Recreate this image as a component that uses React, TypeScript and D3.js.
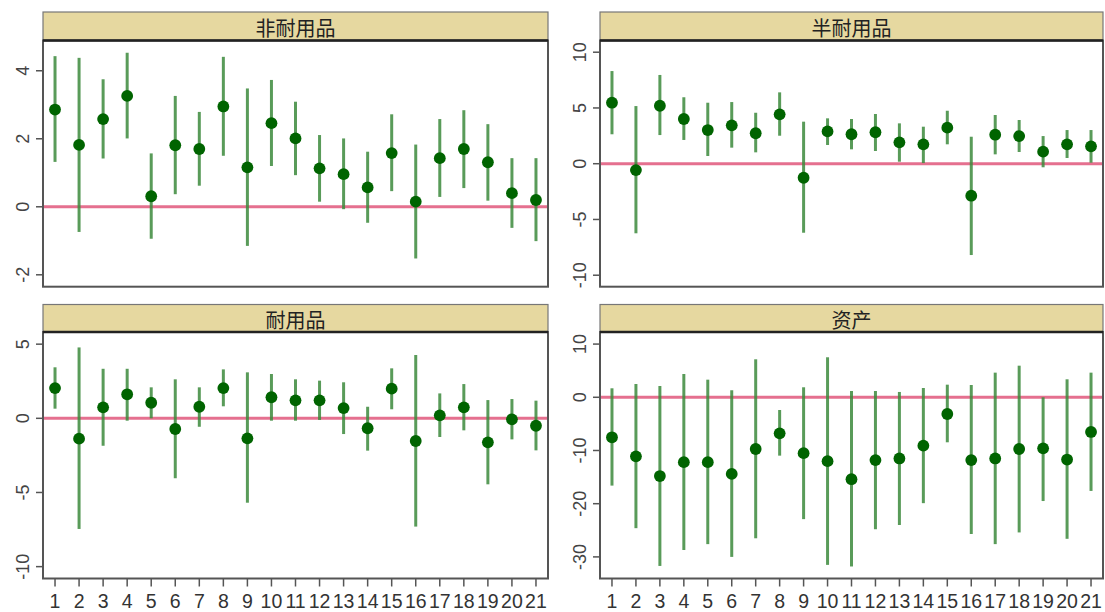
import React from "react";
import * as d3 from "d3";

// Period index on the x axis
const periods: number[] = d3.range(1, 22);

// 非耐用品
const nondurEst = [2.86, 1.82, 2.58, 3.26, 0.31, 1.81, 1.7, 2.95, 1.16, 2.46, 2.01, 1.13, 0.96, 0.57, 1.58, 0.15, 1.43, 1.7, 1.31, 0.4, 0.2];
const nondurHi = [4.43, 4.38, 3.75, 4.53, 1.57, 3.26, 2.79, 4.41, 3.48, 3.73, 3.09, 2.11, 2.01, 1.62, 2.72, 1.83, 2.58, 2.84, 2.43, 1.43, 1.43];
const nondurLo = [1.32, -0.74, 1.42, 2.01, -0.94, 0.37, 0.62, 1.5, -1.15, 1.2, 0.93, 0.15, -0.07, -0.47, 0.46, -1.52, 0.29, 0.55, 0.18, -0.62, -1.01];

// 半耐用品
const semiEst = [5.47, -0.57, 5.2, 4.01, 3.02, 3.44, 2.73, 4.43, -1.26, 2.9, 2.64, 2.82, 1.92, 1.74, 3.23, -2.87, 2.6, 2.48, 1.08, 1.74, 1.56];
const semiHi = [8.31, 5.17, 7.96, 5.96, 5.47, 5.53, 4.57, 6.4, 3.77, 4.07, 4.01, 4.46, 3.62, 3.32, 4.75, 2.42, 4.37, 3.92, 2.48, 3.02, 3.02];
const semiLo = [2.64, -6.24, 2.57, 2.13, 0.69, 1.44, 1.02, 2.51, -6.19, 1.68, 1.29, 1.14, 0.18, 0.06, 1.74, -8.19, 0.84, 1.05, -0.32, 0.51, 0.09];

// 耐用品
const durEst = [2.04, -1.37, 0.74, 1.62, 1.05, -0.72, 0.78, 2.04, -1.35, 1.42, 1.21, 1.21, 0.69, -0.67, 2.0, -1.53, 0.2, 0.74, -1.62, -0.07, -0.5];
const durHi = [3.44, 4.78, 3.34, 3.34, 2.09, 2.63, 2.09, 3.3, 3.1, 2.99, 2.63, 2.54, 2.43, 0.78, 3.37, 4.27, 1.68, 2.31, 1.23, 1.3, 1.19];
const durLo = [0.65, -7.46, -1.85, -0.16, 0.0, -4.04, -0.57, 0.81, -5.69, -0.16, -0.16, -0.11, -1.06, -2.18, 0.61, -7.3, -1.26, -0.81, -4.45, -1.42, -2.16];

// 资产
const assetEst = [-7.52, -11.1, -14.8, -12.2, -12.2, -14.4, -9.72, -6.77, -10.5, -12.0, -15.4, -11.8, -11.5, -9.1, -3.14, -11.8, -11.5, -9.72, -9.6, -11.7, -6.52];
const assetHi = [1.69, 2.5, 2.12, 4.38, 3.31, 1.32, 7.14, -2.39, 1.88, 7.52, 1.18, 1.18, 1.0, 1.75, 2.37, 2.31, 4.63, 5.94, 0.0, 3.38, 4.63];
const assetLo = [-16.6, -24.6, -31.7, -28.7, -27.6, -30.0, -26.5, -10.97, -22.9, -31.5, -31.8, -24.8, -24.0, -19.9, -8.46, -25.7, -27.6, -25.4, -19.5, -26.6, -17.6];

const panelTitles = ["非耐用品", "半耐用品", "耐用品", "资产"];
const nondurTicks = [-2, 0, 2, 4];
const semiTicks = [-10, -5, 0, 5, 10];
const durTicks = [-10, -5, 0, 5];
const assetTicks = [-30, -20, -10, 0, 10];

type PanelSpec = {
  title: string;
  est: number[];
  hi: number[];
  lo: number[];
  ticks: number[];
  yDomain: [number, number];
  x0: number;
  x1: number;
  stripTop: number;
  plotTop: number;
  plotBottom: number;
  showX: boolean;
};

const panels: PanelSpec[] = [
  { title: panelTitles[0], est: nondurEst, hi: nondurHi, lo: nondurLo, ticks: nondurTicks, yDomain: [-2.35, 4.89], x0: 43, x1: 548, stripTop: 12, plotTop: 40.5, plotBottom: 286.7, showX: false },
  { title: panelTitles[1], est: semiEst, hi: semiHi, lo: semiLo, ticks: semiTicks, yDomain: [-11.03, 11.05], x0: 600, x1: 1103, stripTop: 12, plotTop: 40.5, plotBottom: 286.7, showX: false },
  { title: panelTitles[2], est: durEst, hi: durHi, lo: durLo, ticks: durTicks, yDomain: [-10.8, 5.82], x0: 43, x1: 548, stripTop: 304.5, plotTop: 332, plotBottom: 578.5, showX: true },
  { title: panelTitles[3], est: assetEst, hi: assetHi, lo: assetLo, ticks: assetTicks, yDomain: [-34.06, 12.27], x0: 600, x1: 1103, stripTop: 304.5, plotTop: 332, plotBottom: 578.5, showX: true },
];

const GREEN_DOT = "#006400";
const GREEN_BAR = "#3c8a3c";
const ZERO_LINE = "#e5708f";
const STRIP_FILL = "#e6d8a0";

function Panel({ p }: { p: PanelSpec }) {
  const x = d3.scaleLinear().domain([0.5, 21.5]).range([p.x0, p.x1]);
  const y = d3.scaleLinear().domain(p.yDomain).range([p.plotBottom, p.plotTop]);
  const stripH = p.plotTop - p.stripTop;
  return (
    <g>
      {/* strip */}
      <rect x={p.x0} y={p.stripTop} width={p.x1 - p.x0} height={stripH} fill={STRIP_FILL} stroke="#777" strokeWidth={1.2} />
      <text
        x={(p.x0 + p.x1) / 2}
        y={p.stripTop + stripH / 2 + 1.5}
        textAnchor="middle"
        dominantBaseline="central"
        fontFamily="'Noto Sans CJK SC', sans-serif"
        fontSize={20}
        fill="#222"
      >
        {p.title}
      </text>
      {/* plot background */}
      <rect x={p.x0} y={p.plotTop} width={p.x1 - p.x0} height={p.plotBottom - p.plotTop} fill="#fff" />
      {/* zero reference line */}
      <line x1={p.x0} x2={p.x1} y1={y(0)} y2={y(0)} stroke={ZERO_LINE} strokeWidth={3} />
      {/* intervals */}
      {periods.map((k, i) => (
        <line key={"b" + k} x1={x(k)} x2={x(k)} y1={y(p.lo[i])} y2={y(p.hi[i])} stroke={GREEN_BAR} strokeWidth={3} strokeOpacity={0.85} />
      ))}
      {/* point estimates */}
      {periods.map((k, i) => (
        <circle key={"c" + k} cx={x(k)} cy={y(p.est[i])} r={5.9} fill={GREEN_DOT} />
      ))}
      {/* frame */}
      <rect x={p.x0} y={p.plotTop} width={p.x1 - p.x0} height={p.plotBottom - p.plotTop} fill="none" stroke="#555" strokeWidth={2} />
      <line x1={p.x0} x2={p.x1} y1={p.plotTop} y2={p.plotTop} stroke="#222" strokeWidth={2.5} />
      {/* y axis */}
      {p.ticks.map((t) => (
        <g key={"t" + t}>
          <line x1={p.x0 - 7} x2={p.x0} y1={y(t)} y2={y(t)} stroke="#555" strokeWidth={1.5} />
          <text
            transform={`translate(${p.x0 - 20},${y(t)}) rotate(-90)`}
            textAnchor="middle"
            dominantBaseline="central"
            fontFamily="'Liberation Sans', Arial, sans-serif"
            fontSize={18}
            fill="#444"
          >
            {t}
          </text>
        </g>
      ))}
      {/* x axis */}
      {p.showX &&
        periods.map((k) => (
          <g key={"x" + k}>
            <line x1={x(k)} x2={x(k)} y1={p.plotBottom} y2={p.plotBottom + 8} stroke="#555" strokeWidth={1.5} />
            <text
              x={x(k)}
              y={p.plotBottom + 29}
              textAnchor="middle"
              fontFamily="'Liberation Sans', Arial, sans-serif"
              fontSize={19.5}
              fill="#333"
            >
              {k}
            </text>
          </g>
        ))}
    </g>
  );
}

export default function App() {
  return (
    <svg
      width={1105}
      height={612}
      style={{ position: "absolute", left: 0, top: 0, background: "#fff" }}
    >
      <rect x={0} y={0} width={1105} height={612} fill="#fff" />
      {panels.map((p) => (
        <Panel key={p.title} p={p} />
      ))}
    </svg>
  );
}
